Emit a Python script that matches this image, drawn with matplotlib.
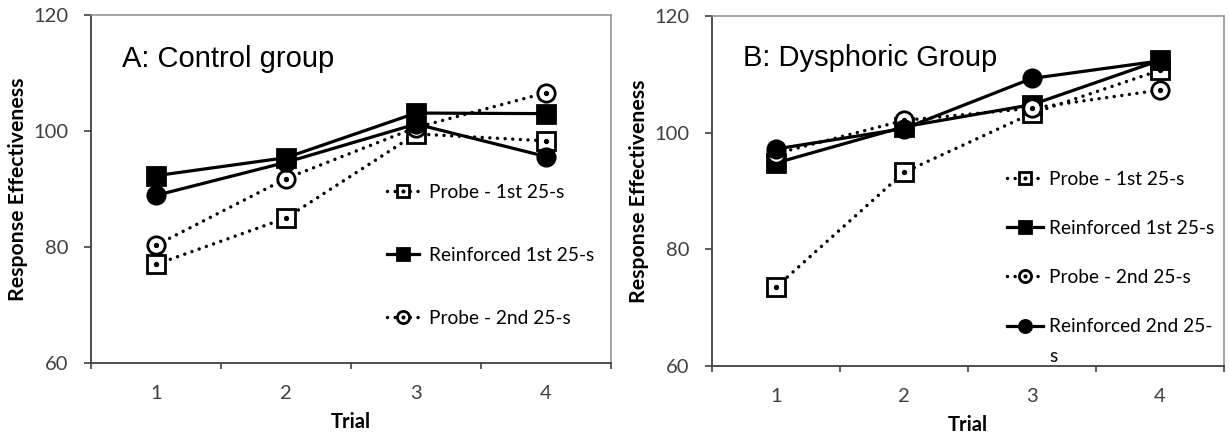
import numpy as np
import matplotlib
matplotlib.use('Agg')
import matplotlib.pyplot as plt
from matplotlib.legend_handler import HandlerTuple

# data #
trials = [1, 2, 3, 4]
trial_labels = ['1', '2', '3', '4']
series_names = ['Probe - 1st 25-s', 'Reinforced 1st 25-s', 'Probe - 2nd 25-s', 'Reinforced 2nd 25-']

a_probe1 = [77.0, 85.0, 99.5, 98.3]
a_reinf1 = [92.3, 95.4, 103.1, 103.0]
a_probe2 = [80.3, 91.8, 100.6, 106.6]
a_reinf2 = [88.9, 94.6, 101.2, 95.6]

b_probe1 = [73.5, 93.2, 103.3, 110.7]
b_reinf1 = [94.8, 101.0, 104.8, 112.4]
b_probe2 = [96.4, 102.1, 104.2, 107.3]
b_reinf2 = [97.2, 100.7, 109.3, 112.3]

calibri = ['Lato', 'DejaVu Sans']
arial = ['Liberation Sans', 'DejaVu Sans']
dotted = (0, (0.001, 2.2))


def draw_series(ax, y, marker, filled, ls):
    fc = 'black' if filled else 'white'
    ln, = ax.plot(trials, y, color='black', lw=2.3 if ls == '-' else 2.5, linestyle=ls,
                  dash_capstyle='round', marker=marker, markersize=12.5,
                  markerfacecolor=fc, markeredgecolor='black', markeredgewidth=2.0)
    if filled:
        return ln
    # small dot in the middle of the open markers #
    dot, = ax.plot(trials, y, linestyle='none', marker='o', markersize=2.8,
                   markerfacecolor='black', markeredgecolor='black')
    return (ln, dot)


def style_axes(ax):
    ax.set_xlim(0.5, 4.5)
    ax.set_ylim(60, 120)
    ax.set_yticks([60, 80, 100, 120])
    ax.set_xticks([0.5, 1.5, 2.5, 3.5, 4.5])
    ax.set_xticklabels([])
    ax.set_xticks(trials, minor=True)
    ax.set_xticklabels(trial_labels, minor=True, family=calibri, fontsize=14.5, color='#404040')
    ax.tick_params(axis='x', which='major', direction='out', length=4.5, width=1.2, color='#404040')
    ax.tick_params(axis='x', which='minor', length=0, pad=16)
    ax.tick_params(axis='y', direction='out', length=5, width=1.2, color='#404040', pad=11,
                   labelsize=14.5, labelcolor='#404040')
    for t in ax.get_yticklabels():
        t.set_family(calibri)
    for s in ['left', 'bottom']:
        ax.spines[s].set_color('#404040')
        ax.spines[s].set_linewidth(1.3)
    for s in ['top', 'right']:
        ax.spines[s].set_color('#8c8c8c')
        ax.spines[s].set_linewidth(1.1)
    ax.set_xlabel('Trial', family=calibri, fontweight='bold', fontsize=14.5, labelpad=7)
    ax.set_ylabel('Response Effectiveness', family=calibri, fontweight='bold', fontsize=15.3, labelpad=4)


fig = plt.figure(figsize=(12.29, 4.38), dpi=100)
axA = fig.add_axes([0.0740, 0.1712, 0.4232, 0.7945])
axB = fig.add_axes([0.5793, 0.1644, 0.4166, 0.7991])
tuple_handler = {tuple: HandlerTuple(ndivide=1, pad=0)}

# panel A #
hA = [draw_series(axA, a_probe1, 's', False, dotted),
      draw_series(axA, a_reinf1, 's', True, '-'),
      draw_series(axA, a_probe2, 'o', False, dotted),
      draw_series(axA, a_reinf2, 'o', True, '-')]
style_axes(axA)
axA.text(0.06, 0.874, 'A: Control group', transform=axA.transAxes, family=arial,
         fontsize=21, va='center', ha='left')
axA.legend(hA[:3], series_names[:3], loc='upper left', bbox_to_anchor=(0.569, 0.515),
           frameon=False, prop={'family': calibri, 'size': 13.8}, handlelength=1.7,
           handletextpad=0.5, labelspacing=2.4, borderpad=0, borderaxespad=0,
           markerscale=0.7, numpoints=1, handler_map=tuple_handler)

# panel B #
hB = [draw_series(axB, b_probe1, 's', False, dotted),
      draw_series(axB, b_reinf1, 's', True, '-'),
      draw_series(axB, b_probe2, 'o', False, dotted),
      draw_series(axB, b_reinf2, 'o', True, '-')]
style_axes(axB)
axB.text(0.061, 0.88, 'B: Dysphoric Group', transform=axB.transAxes, family=arial,
         fontsize=21, va='center', ha='left')
legB = axB.legend(hB, series_names, loc='upper left', bbox_to_anchor=(0.576, 0.558),
                  frameon=False, prop={'family': calibri, 'size': 13.8}, handlelength=1.9,
                  handletextpad=0.3, labelspacing=1.68, borderpad=0, borderaxespad=0,
                  markerscale=0.7, numpoints=1, handler_map=tuple_handler)
fig.canvas.draw()
# wrapped tail of the last legend label #
axB.annotate('s', xy=(0, 0), xycoords=legB.get_texts()[3], xytext=(0, -9),
             textcoords='offset points', va='top', ha='left', family=calibri, fontsize=13.8)

fig.savefig('out.png', dpi=100)
